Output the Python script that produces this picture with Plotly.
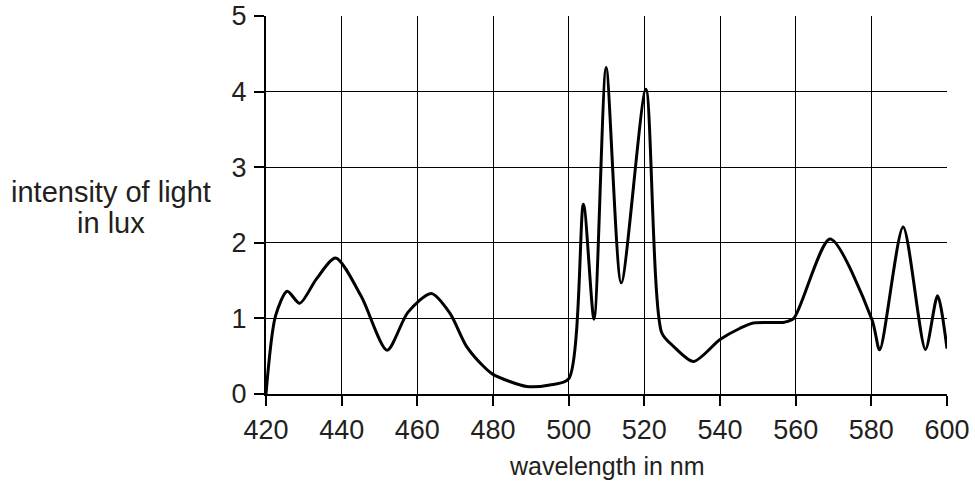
import plotly.graph_objects as go

wavelength_nm = [420, 422.5, 425.6, 428.9, 433.3, 438.4, 445.2, 452.0, 457.5, 463.7,
                 468.6, 473.0, 477.4, 480.0, 488.9, 495.0, 500.0, 503.9, 506.7,
                 509.9, 513.9, 520.4, 524.6, 527.7, 533.0, 540.0, 545.3, 548.8,
                 557.0, 559.5, 569.1, 580.2, 582.2, 588.4, 594.3, 597.5, 600.0]
intensity_lux = [0.0, 1.03, 1.36, 1.20, 1.52, 1.80, 1.29, 0.58, 1.08, 1.33,
                 1.07, 0.63, 0.37, 0.26, 0.10, 0.12, 0.20, 2.51, 0.99,
                 4.32, 1.47, 4.03, 0.81, 0.63, 0.43, 0.72, 0.87, 0.94,
                 0.95, 1.00, 2.05, 0.98, 0.585, 2.21, 0.59, 1.30, 0.60]

x_ticks = [420, 440, 460, 480, 500, 520, 540, 560, 580, 600]
y_ticks = [0, 1, 2, 3, 4, 5]

TEXT = "#231f20"
FONT = "Liberation Sans, Arial, Helvetica, sans-serif"

fig = go.Figure()
fig.add_trace(go.Scatter(
    x=wavelength_nm, y=intensity_lux, mode="lines",
    line=dict(color="black", width=3, shape="spline", smoothing=0.75),
    hoverinfo="skip", showlegend=False,
))

axis_common = dict(
    showgrid=True, gridcolor="black", gridwidth=1.3,
    showline=True, linecolor="black", linewidth=2.2,
    ticks="outside", ticklen=10, tickwidth=2, tickcolor="black",
    zeroline=False,
    tickfont=dict(family=FONT, size=27, color=TEXT),
)

fig.update_xaxes(range=[420, 600], tickvals=x_ticks, **axis_common)
fig.update_yaxes(range=[0, 5], tickvals=y_ticks, ticklabelstandoff=2, **axis_common)

fig.update_layout(
    width=975, height=482,
    margin=dict(l=266, r=28, t=16, b=88, autoexpand=False),
    plot_bgcolor="white", paper_bgcolor="white",
    font=dict(family=FONT, color=TEXT),
)

fig.add_annotation(
    text="wavelength in nm", xref="paper", yref="paper",
    x=0.5, y=-0.19, xanchor="center", yanchor="middle", showarrow=False,
    font=dict(family=FONT, size=25, color=TEXT),
)
fig.add_annotation(
    text="intensity of light", xref="paper", yref="paper",
    x=-0.228, y=0.535, xanchor="center", yanchor="middle", showarrow=False,
    font=dict(family=FONT, size=29, color=TEXT),
)
fig.add_annotation(
    text="in lux", xref="paper", yref="paper",
    x=-0.228, y=0.453, xanchor="center", yanchor="middle", showarrow=False,
    font=dict(family=FONT, size=29, color=TEXT),
)

fig.write_html(
    "out.html",
    config={"displayModeBar": False},
    post_script="document.body.style.margin='0';document.body.style.overflow='hidden';",
)
